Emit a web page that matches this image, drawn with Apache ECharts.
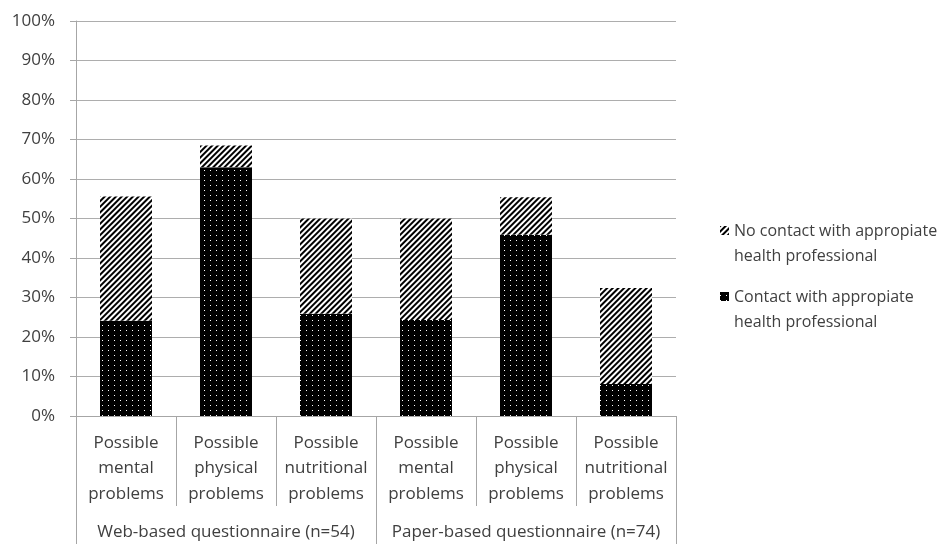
<!DOCTYPE html>
<html>
<head>
<meta charset="utf-8">
<script src="https://cdn.jsdelivr.net/npm/echarts@6/dist/echarts.min.js"></script>
<style>html,body{margin:0;padding:0;background:#fff}#c{width:947px;height:545px}</style>
</head>
<body>
<div id="c"></div>
<script>
var categories = ['Possible\nmental\nproblems','Possible\nphysical\nproblems','Possible\nnutritional\nproblems','Possible\nmental\nproblems','Possible\nphysical\nproblems','Possible\nnutritional\nproblems'];
var groups = ['Web-based questionnaire (n=54)','Paper-based questionnaire (n=74)'];
var contact = [24.1, 63.0, 25.9, 24.3, 45.9, 8.1];
var noContact = [31.5, 5.5, 24.1, 25.7, 9.5, 24.3];
var seriesNames = ['No contact with appropiate health professional','Contact with appropiate health professional'];
var legendText = {
  'No contact with appropiate health professional': 'No contact with appropiate\nhealth professional',
  'Contact with appropiate health professional': 'Contact with appropiate\nhealth professional'
};

var FONT = 'Open Sans';
var TXT = '#404040';
var chart = echarts.init(document.getElementById('c'));
chart.setOption({
  animation: false,
  backgroundColor: '#fff',
  grid: {left: 76, right: 271, top: 21, bottom: 128},
  legend: {
    orient: 'vertical', left: 720, top: 219, itemGap: 16, padding: 0,
    itemWidth: 9, itemHeight: 50, itemTextGap: 7,
    icon: 'path://M0,0 M0,50 M0,7h9v9h-9z',
    data: [seriesNames[0], seriesNames[1]],
    formatter: function (n) { return legendText[n]; },
    textStyle: {fontFamily: FONT, fontSize: 16, lineHeight: 25, color: TXT}
  },
  xAxis: [{
    type: 'category', data: categories, position: 'bottom',
    axisLine: {show: true, lineStyle: {color: '#a6a6a6', width: 1}},
    axisTick: {show: true, interval: 0, length: 90, lineStyle: {color: '#a6a6a6'}},
    axisLabel: {interval: 0, margin: 14, fontFamily: FONT, fontSize: 17, lineHeight: 25.5, color: TXT}
  }, {
    type: 'category', data: groups, position: 'bottom', gridIndex: 0,
    axisLine: {show: false},
    axisTick: {show: true, interval: 0, length: 128, lineStyle: {color: '#a6a6a6'}},
    axisLabel: {interval: 0, margin: 104, fontFamily: FONT, fontSize: 17, lineHeight: 25, color: TXT}
  }],
  yAxis: {
    type: 'value', min: 0, max: 100, interval: 10,
    axisLine: {show: true, lineStyle: {color: '#a6a6a6'}},
    axisTick: {show: true, length: 6, lineStyle: {color: '#a6a6a6'}},
    splitLine: {lineStyle: {color: '#adadad'}},
    axisLabel: {margin: 21, formatter: '{value}%', fontFamily: FONT, fontSize: 17, color: TXT}
  },
  series: [{
    name: seriesNames[1], type: 'bar', stack: 's', barWidth: '52%', data: contact,
    itemStyle: {color: '#000', decal: {symbol: 'rect', color: '#fff', symbolSize: 1, dashArrayX: [1, 5], dashArrayY: [1, 4]}}
  }, {
    name: seriesNames[0], type: 'bar', stack: 's', barWidth: '52%', data: noContact,
    itemStyle: {color: '#fff', decal: {symbol: 'rect', color: '#000', symbolSize: 1, dashArrayX: [1, 0], dashArrayY: [2, 2], rotation: -Math.PI / 4}}
  }]
});
</script>
</body>
</html>
